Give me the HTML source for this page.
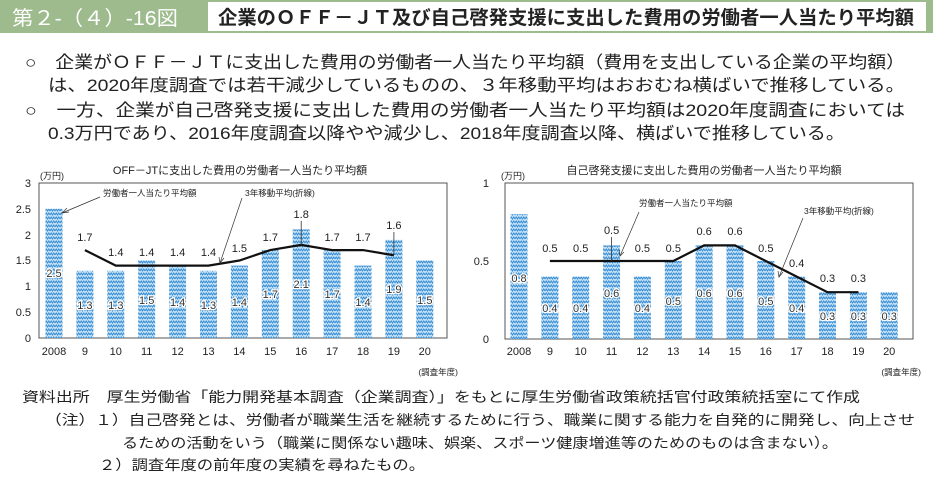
<!DOCTYPE html>
<html><head><meta charset="utf-8">
<style>
html,body{margin:0;padding:0;background:#fff;}
svg{display:block;font-family:"Liberation Sans","Noto Sans CJK JP",sans-serif;}
</style></head><body>
<svg width="933" height="490" viewBox="0 0 933 490" xmlns="http://www.w3.org/2000/svg">
<defs>
<pattern id="zz" width="5" height="4" patternUnits="userSpaceOnUse">
<rect width="5" height="4" fill="#c6e3f7"/>
<polyline points="0,3 1.25,1 2.5,3 3.75,1 5,3" fill="none" stroke="#3a8fd4" stroke-width="1"/>
</pattern>
</defs>
<!-- header -->
<rect x="0" y="0" width="933" height="33" fill="#9dbb8d"/>
<rect x="208" y="2" width="718" height="29" fill="#fff"/>
<text x="12" y="25" font-size="20" fill="#fff" textLength="166" lengthAdjust="spacingAndGlyphs">第２-（４）-16図</text>
<text x="218" y="24" font-size="19" font-weight="bold" fill="#222" textLength="696" lengthAdjust="spacingAndGlyphs">企業のＯＦＦ－ＪＴ及び自己啓発支援に支出した費用の労働者一人当たり平均額</text>
<!-- intro text -->
<g font-size="17" fill="#222">
<text x="25" y="68" textLength="880" lengthAdjust="spacingAndGlyphs">○　企業がＯＦＦ－ＪＴに支出した費用の労働者一人当たり平均額（費用を支出している企業の平均額）</text>
<text x="48" y="91" textLength="857" lengthAdjust="spacingAndGlyphs">は、2020年度調査では若干減少しているものの、３年移動平均はおおむね横ばいで推移している。</text>
<text x="25" y="116" textLength="880" lengthAdjust="spacingAndGlyphs">○　一方、企業が自己啓発支援に支出した費用の労働者一人当たり平均額は2020年度調査においては</text>
<text x="48" y="139" textLength="797" lengthAdjust="spacingAndGlyphs">0.3万円であり、2016年度調査以降やや減少し、2018年度調査以降、横ばいで推移している。</text>
</g>
<!-- chart 1 -->
<g font-size="10" fill="#222">
<text x="240" y="174" font-size="11" text-anchor="middle">OFF－JTに支出した費用の労働者一人当たり平均額</text>
<text x="40" y="179" font-size="9">(万円)</text>
<rect x="39" y="183" width="408" height="155" fill="none" stroke="#555" stroke-width="1"/>
<g text-anchor="end" font-size="11">
<text x="31" y="187">3</text><text x="31" y="213">2.5</text><text x="31" y="239">2</text><text x="31" y="264">1.5</text><text x="31" y="290">1</text><text x="31" y="316">0.5</text><text x="31" y="342">0</text>
</g>
<g fill="url(#zz)">
<rect x="45.5" y="208.8" width="17" height="129.2"/>
<rect x="76.4" y="270.8" width="17" height="67.2"/>
<rect x="107.3" y="270.8" width="17" height="67.2"/>
<rect x="138.2" y="260.5" width="17" height="77.5"/>
<rect x="169.1" y="265.6" width="17" height="72.4"/>
<rect x="200" y="270.8" width="17" height="67.2"/>
<rect x="230.9" y="265.6" width="17" height="72.4"/>
<rect x="261.8" y="250.1" width="17" height="87.9"/>
<rect x="292.7" y="229.4" width="17" height="108.6"/>
<rect x="323.6" y="250.1" width="17" height="87.9"/>
<rect x="354.5" y="265.6" width="17" height="72.4"/>
<rect x="385.4" y="239.8" width="17" height="98.2"/>
<rect x="416.3" y="260.5" width="17" height="77.5"/>
</g>
<g text-anchor="middle" font-size="11" fill="#333" stroke="#fff" stroke-width="2.5" paint-order="stroke">
<text x="54" y="277">2.5</text><text x="84.9" y="309">1.3</text><text x="115.8" y="309">1.3</text><text x="146.7" y="304">1.5</text><text x="177.6" y="306">1.4</text><text x="208.5" y="309">1.3</text><text x="239.4" y="306">1.4</text><text x="270.3" y="298">1.7</text><text x="301.2" y="288">2.1</text><text x="332.1" y="298">1.7</text><text x="363" y="306">1.4</text><text x="393.9" y="293">1.9</text><text x="424.8" y="304">1.5</text>
</g>
<polyline points="84.9,250.1 115.8,265.6 146.7,265.6 177.6,265.6 208.5,265.6 239.4,260.5 270.3,250.1 301.2,244.9 332.1,250.1 363,250.1 393.9,255.3" fill="none" stroke="#111" stroke-width="2.2"/>
<g text-anchor="middle" font-size="11">
<text x="84.9" y="241">1.7</text><text x="115.8" y="256">1.4</text><text x="146.7" y="256">1.4</text><text x="177.6" y="256">1.4</text><text x="208.5" y="256">1.4</text><text x="239.4" y="252">1.5</text><text x="270.3" y="241">1.7</text><text x="301.2" y="218">1.8</text><text x="332.1" y="241">1.7</text><text x="363" y="241">1.7</text><text x="393.9" y="229">1.6</text>
</g>
<line x1="301.2" y1="221" x2="301.2" y2="245" stroke="#333" stroke-width="0.8"/>
<line x1="393.9" y1="232" x2="393.9" y2="255" stroke="#333" stroke-width="0.8"/>
<text x="103" y="196" font-size="8.5">労働者一人当たり平均額</text>
<line x1="100" y1="197" x2="62" y2="213" stroke="#333" stroke-width="0.7"/>
<polyline points="67,208 62,213 69,212" fill="none" stroke="#333" stroke-width="0.7"/>
<text x="245" y="196" font-size="8.5">3年移動平均(折線)</text>
<line x1="242" y1="198" x2="220" y2="263" stroke="#333" stroke-width="0.7"/>
<polyline points="219,257 220,263 224,258" fill="none" stroke="#333" stroke-width="0.7"/>
<g text-anchor="middle" font-size="11">
<text x="54" y="355">2008</text><text x="84.9" y="355">9</text><text x="115.8" y="355">10</text><text x="146.7" y="355">11</text><text x="177.6" y="355">12</text><text x="208.5" y="355">13</text><text x="239.4" y="355">14</text><text x="270.3" y="355">15</text><text x="301.2" y="355">16</text><text x="332.1" y="355">17</text><text x="363" y="355">18</text><text x="393.9" y="355">19</text><text x="424.8" y="355">20</text>
</g>
<text x="458" y="375" font-size="8.5" text-anchor="end">(調査年度)</text>
</g>
<!-- chart 2 -->
<g font-size="10" fill="#222">
<text x="704" y="174" font-size="11" text-anchor="middle">自己啓発支援に支出した費用の労働者一人当たり平均額</text>
<text x="501" y="179" font-size="9">(万円)</text>
<rect x="505" y="183" width="408" height="156" fill="none" stroke="#555" stroke-width="1"/>
<g text-anchor="end" font-size="11">
<text x="489" y="187">1</text><text x="489" y="265">0.5</text><text x="489" y="343">0</text>
</g>
<g fill="url(#zz)">
<rect x="510.5" y="214.2" width="17" height="124.8"/>
<rect x="541.4" y="276.6" width="17" height="62.4"/>
<rect x="572.2" y="276.6" width="17" height="62.4"/>
<rect x="603.1" y="245.4" width="17" height="93.6"/>
<rect x="633.9" y="276.6" width="17" height="62.4"/>
<rect x="664.8" y="261" width="17" height="78"/>
<rect x="695.6" y="245.4" width="17" height="93.6"/>
<rect x="726.5" y="245.4" width="17" height="93.6"/>
<rect x="757.3" y="261" width="17" height="78"/>
<rect x="788.2" y="276.6" width="17" height="62.4"/>
<rect x="819" y="292.2" width="17" height="46.8"/>
<rect x="849.9" y="292.2" width="17" height="46.8"/>
<rect x="880.7" y="292.2" width="17" height="46.8"/>
</g>
<g text-anchor="middle" font-size="11" fill="#333" stroke="#fff" stroke-width="2.5" paint-order="stroke">
<text x="519" y="282">0.8</text><text x="549.9" y="312">0.4</text><text x="580.7" y="312">0.4</text><text x="611.6" y="297">0.6</text><text x="642.4" y="312">0.4</text><text x="673.3" y="305">0.5</text><text x="704.1" y="297">0.6</text><text x="735" y="297">0.6</text><text x="765.8" y="305">0.5</text><text x="796.7" y="312">0.4</text><text x="827.5" y="320">0.3</text><text x="858.4" y="320">0.3</text><text x="889.2" y="320">0.3</text>
</g>
<polyline points="549.9,261 580.7,261 611.6,261 642.4,261 673.3,261 704.1,245.4 735,245.4 765.8,261 796.7,276.6 827.5,292.2 858.4,292.2" fill="none" stroke="#111" stroke-width="2.2"/>
<g text-anchor="middle" font-size="11">
<text x="549.9" y="252">0.5</text><text x="580.7" y="252">0.5</text><text x="611.6" y="234">0.5</text><text x="642.4" y="252">0.5</text><text x="673.3" y="252">0.5</text><text x="704.1" y="235">0.6</text><text x="735" y="235">0.6</text><text x="765.8" y="252">0.5</text><text x="796.7" y="267">0.4</text><text x="827.5" y="282">0.3</text><text x="858.4" y="282">0.3</text>
</g>
<line x1="611.6" y1="237" x2="611.6" y2="261" stroke="#333" stroke-width="0.8"/>
<text x="639" y="206" font-size="8.5">労働者一人当たり平均額</text>
<line x1="639" y1="212" x2="620" y2="256" stroke="#333" stroke-width="0.7"/>
<polyline points="619,250 620,256 624,252" fill="none" stroke="#333" stroke-width="0.7"/>
<text x="804" y="214" font-size="8.5">3年移動平均(折線)</text>
<line x1="803" y1="218" x2="779" y2="277" stroke="#333" stroke-width="0.7"/>
<polyline points="778,271 779,277 783,272" fill="none" stroke="#333" stroke-width="0.7"/>
<g text-anchor="middle" font-size="11">
<text x="519" y="355">2008</text><text x="549.9" y="355">9</text><text x="580.7" y="355">10</text><text x="611.6" y="355">11</text><text x="642.4" y="355">12</text><text x="673.3" y="355">13</text><text x="704.1" y="355">14</text><text x="735" y="355">15</text><text x="765.8" y="355">16</text><text x="796.7" y="355">17</text><text x="827.5" y="355">18</text><text x="858.4" y="355">19</text><text x="889.2" y="355">20</text>
</g>
<text x="921" y="375" font-size="8.5" text-anchor="end">(調査年度)</text>
</g>
<!-- notes -->
<g font-size="14" fill="#222">
<text x="22" y="402" textLength="838" lengthAdjust="spacingAndGlyphs">資料出所　厚生労働省「能力開発基本調査（企業調査）」をもとに厚生労働省政策統括官付政策統括室にて作成</text>
<text x="45" y="425" textLength="870" lengthAdjust="spacingAndGlyphs">（注）１）自己啓発とは、労働者が職業生活を継続するために行う、職業に関する能力を自発的に開発し、向上させ</text>
<text x="122" y="448" textLength="716" lengthAdjust="spacingAndGlyphs">るための活動をいう（職業に関係ない趣味、娯楽、スポーツ健康増進等のためのものは含まない）。</text>
<text x="99" y="470" textLength="326" lengthAdjust="spacingAndGlyphs">２）調査年度の前年度の実績を尋ねたもの。</text>
</g>
</svg>
</body></html>
